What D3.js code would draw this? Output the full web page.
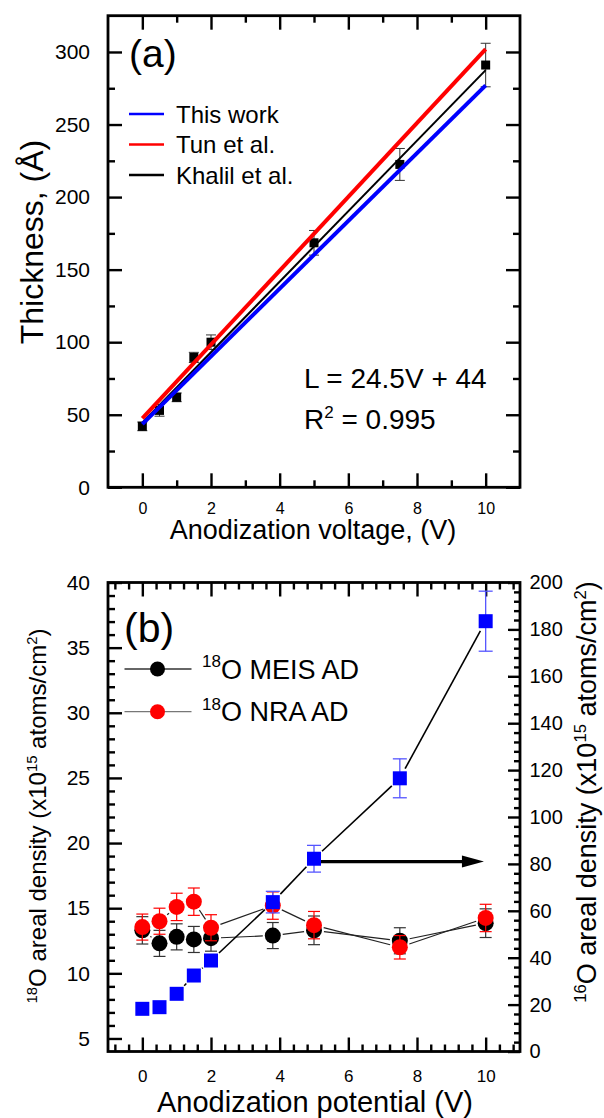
<!DOCTYPE html>
<html>
<head>
<meta charset="utf-8">
<script src="https://cdn.jsdelivr.net/npm/d3@7"></script>
<style>
  body { margin: 0; background: #fff; }
  svg { display: block; font-family: "Liberation Sans", Arial, sans-serif; }
</style>
</head>
<body>
<svg id="chart" width="604" height="1118"></svg>
<script>
// ---- panel (a) data ----
const voltA = [0, 0.5, 1, 1.5, 2, 5, 7.5, 10];
const thickA = [42, 53, 62, 89.5, 100, 168.5, 222.5, 291];
const thickErr = [3, 4, 3, 3.5, 5, 8.5, 11, 15];

// fitted lines, value at 0 V and at 10 V
const fitNames = ["This work", "Tun et al.", "Khalil et al."];
const fitColors = ["#0000ff", "#ff0000", "#000000"];
const fitAt0 = [43.5, 47.5, 44.5];
const fitAt10 = [277, 302, 287.5];

const thickTicks = [0, 50, 100, 150, 200, 250, 300];
const thickMinor = [25, 75, 125, 175, 225, 275];
const voltTicks = [0, 2, 4, 6, 8, 10];
const voltMinorA = [1, 3, 5, 7, 9];

// ---- panel (b) data ----
const voltB = [0, 0.5, 1, 1.5, 2, 3.8, 5, 7.5, 10];
const meis = [13.3, 12.3, 12.8, 12.6, 12.7, 12.9, 13.3, 12.5, 13.85];
const meisErr = [1.05, 1, 1, 1, 1, 1, 1.1, 1, 1.1];
const nra = [13.55, 14.0, 15.1, 15.5, 13.5, 15.2, 13.7, 12.0, 14.25];
const nraErr = [1, 1, 1.05, 1.05, 1, 1.05, 1.05, 0.9, 1.05];
const o16 = [18.2, 18.9, 24.6, 32.4, 38.8, 63.7, 82.2, 116.5, 183.5];
const o16Err = [0, 0, 0, 0, 0, 4.6, 5.7, 8.3, 12.8];

const o18Ticks = [5, 10, 15, 20, 25, 30, 35, 40];
const o16Ticks = [0, 20, 40, 60, 80, 100, 120, 140, 160, 180, 200];

const svg = d3.select("#chart");
const FONT = '"Liberation Sans", Arial, sans-serif';

// shared helpers
function axis(g, gen, tx, ty, fs) {
  const a = g.append("g").attr("transform", `translate(${tx},${ty})`).call(gen);
  a.select(".domain").remove();
  a.attr("font-family", FONT).attr("font-size", fs);
  a.selectAll(".tick line").attr("stroke", "#000").attr("stroke-width", 2.4);
  a.selectAll(".tick text").attr("fill", "#000");
  return a;
}

function frame(g, x, y) {
  g.append("rect")
    .attr("x", x.range()[0]).attr("y", y.range()[1])
    .attr("width", x.range()[1] - x.range()[0])
    .attr("height", y.range()[0] - y.range()[1])
    .attr("fill", "none").attr("stroke", "#000").attr("stroke-width", 2.8);
}

function errorBars(g, xs, ys, es, x, y, color, cap, sw) {
  xs.forEach((v, i) => {
    if (!es[i]) return;
    const px = x(v), y1 = y(ys[i] - es[i]), y2 = y(ys[i] + es[i]);
    const eb = g.append("g").attr("stroke", color).attr("stroke-width", sw);
    eb.append("line").attr("x1", px).attr("x2", px).attr("y1", y1).attr("y2", y2);
    eb.append("line").attr("x1", px - cap).attr("x2", px + cap).attr("y1", y1).attr("y2", y1);
    eb.append("line").attr("x1", px - cap).attr("x2", px + cap).attr("y1", y2).attr("y2", y2);
  });
}

// connecting line with a gap round each symbol
function gapLine(g, xs, ys, x, y, gap, color, sw) {
  for (let i = 0; i < xs.length - 1; i++) {
    const ax = x(xs[i]), ay = y(ys[i]), bx = x(xs[i + 1]), by = y(ys[i + 1]);
    const len = Math.hypot(bx - ax, by - ay);
    if (len <= 2 * gap) continue;
    const ux = (bx - ax) / len, uy = (by - ay) / len;
    g.append("line")
      .attr("x1", ax + ux * gap).attr("y1", ay + uy * gap)
      .attr("x2", bx - ux * gap).attr("y2", by - uy * gap)
      .attr("stroke", color).attr("stroke-width", sw);
  }
}

// ================= panel (a) =================
const xA = d3.scaleLinear().domain([-1, 11]).range([108, 520]);
const yA = d3.scaleLinear().domain([0, 325]).range([487.3, 15.7]);
const gA = svg.append("g");

axis(gA, d3.axisLeft(yA).tickValues(thickTicks).tickSize(-14).tickPadding(18), 108, 0, 21);
axis(gA, d3.axisLeft(yA).tickValues(thickMinor).tickSize(-7).tickFormat(""), 108, 0, 21);
axis(gA, d3.axisRight(yA).tickValues(thickTicks).tickSize(-14).tickFormat(""), 520, 0, 21);
axis(gA, d3.axisRight(yA).tickValues(thickMinor).tickSize(-7).tickFormat(""), 520, 0, 21);
axis(gA, d3.axisBottom(xA).tickValues(voltTicks).tickSize(-14).tickPadding(15), 0, 487.3, 16);
axis(gA, d3.axisBottom(xA).tickValues(voltMinorA).tickSize(-7).tickFormat(""), 0, 487.3, 16);
axis(gA, d3.axisTop(xA).tickValues(voltTicks).tickSize(-14).tickFormat(""), 0, 15.7, 16);
axis(gA, d3.axisTop(xA).tickValues(voltMinorA).tickSize(-7).tickFormat(""), 0, 15.7, 16);

// data points
errorBars(gA, voltA, thickA, thickErr, xA, yA, "#333", 5, 1);
gA.selectAll(".sq").data(voltA).enter().append("rect")
  .attr("x", d => xA(d) - 4.5).attr("y", (d, i) => yA(thickA[i]) - 4.5)
  .attr("width", 9).attr("height", 9).attr("fill", "#000");

// fitted lines (drawn black, red, blue)
const fitWidths = [4, 4, 2];
[2, 1, 0].forEach(i => {
  gA.append("line")
    .attr("x1", xA(0)).attr("y1", yA(fitAt0[i]))
    .attr("x2", xA(10)).attr("y2", yA(fitAt10[i]))
    .attr("stroke", fitColors[i]).attr("stroke-width", fitWidths[i]);
});

frame(gA, xA, yA);

gA.append("text").attr("x", 129).attr("y", 66.5).attr("font-size", 39).text("(a)");

// legend
fitNames.forEach((n, i) => {
  const ly = 114 + i * 30.5;
  gA.append("line").attr("x1", 129).attr("x2", 164).attr("y1", ly).attr("y2", ly)
    .attr("stroke", fitColors[i]).attr("stroke-width", 2.6);
  gA.append("text").attr("x", 176).attr("y", ly + 8.5).attr("font-size", 24).text(n);
});

gA.append("text").attr("x", 304).attr("y", 388).attr("font-size", 28).text("L = 24.5V + 44");
const r2 = gA.append("text").attr("x", 304).attr("y", 429).attr("font-size", 28);
r2.append("tspan").text("R");
r2.append("tspan").attr("font-size", 17).attr("dy", -11).text("2");
r2.append("tspan").attr("dy", 11).text(" = 0.995");

gA.append("text").attr("x", 313).attr("y", 539).attr("text-anchor", "middle")
  .attr("font-size", 27).text("Anodization voltage, (V)");
gA.append("text").attr("transform", "translate(42.5,242) rotate(-90)")
  .attr("text-anchor", "middle").attr("font-size", 32).text("Thickness, (Å)");

// ================= panel (b) =================
const xB = d3.scaleLinear().domain([-1, 11]).range([108, 520]);
const yB = d3.scaleLinear().domain([4, 40]).range([1051.5, 582.5]);
const yR = d3.scaleLinear().domain([0, 200]).range([1051.5, 582.5]);
const gB = svg.append("g");

const xMinorB = d3.range(-0.8, 11, 0.4).filter(v => Math.abs(v / 2 - Math.round(v / 2)) > 0.01);
const o18Minor = d3.range(5, 40, 1).filter(v => v % 5 !== 0);
const o16Minor = d3.range(4, 200, 4).filter(v => v % 20 !== 0);

axis(gB, d3.axisLeft(yB).tickValues(o18Ticks).tickSize(-14).tickPadding(18), 108, 0, 21);
axis(gB, d3.axisLeft(yB).tickValues(o18Minor).tickSize(-7).tickFormat(""), 108, 0, 21);
axis(gB, d3.axisRight(yR).tickValues(o16Ticks).tickSize(-12).tickPadding(9.5), 520, 0, 20);
axis(gB, d3.axisRight(yR).tickValues(o16Minor).tickSize(-6).tickFormat(""), 520, 0, 20);
axis(gB, d3.axisBottom(xB).tickValues(voltTicks).tickSize(-14).tickPadding(18), 0, 1051.5, 17);
axis(gB, d3.axisBottom(xB).tickValues(xMinorB).tickSize(-7).tickFormat(""), 0, 1051.5, 17);
axis(gB, d3.axisTop(xB).tickValues(voltTicks).tickSize(-14).tickFormat(""), 0, 582.5, 17);
axis(gB, d3.axisTop(xB).tickValues(xMinorB).tickSize(-7).tickFormat(""), 0, 582.5, 17);

// connecting lines
gapLine(gB, voltB, meis, xB, yB, 10, "#222", 1.2);
gapLine(gB, voltB, nra, xB, yB, 10, "#222", 1.2);
gapLine(gB, voltB, o16, xB, yR, 11, "#000", 1.6);

// arrow pointing to the right axis
const arrowY = 81;
const ax1 = xB(5.1), ax2 = xB(9.95), ay = yR(arrowY);
gB.append("line").attr("x1", ax1).attr("x2", ax2 - 18).attr("y1", ay).attr("y2", ay)
  .attr("stroke", "#000").attr("stroke-width", 3.2);
gB.append("path")
  .attr("d", `M${ax2},${ay}L${ax2 - 22},${ay - 6}L${ax2 - 22},${ay + 6}Z`)
  .attr("fill", "#000");

// MEIS
errorBars(gB, voltB, meis, meisErr, xB, yB, "#333", 6, 1.2);
gB.selectAll(".meis").data(voltB).enter().append("circle")
  .attr("cx", d => xB(d)).attr("cy", (d, i) => yB(meis[i])).attr("r", 8).attr("fill", "#000");
// NRA
errorBars(gB, voltB, nra, nraErr, xB, yB, "#ff0000", 6, 1.2);
gB.selectAll(".nra").data(voltB).enter().append("circle")
  .attr("cx", d => xB(d)).attr("cy", (d, i) => yB(nra[i])).attr("r", 8).attr("fill", "#ff0000");
// 16O
errorBars(gB, voltB, o16, o16Err, xB, yR, "#5555ff", 7, 1.3);
gB.selectAll(".o16").data(voltB).enter().append("rect")
  .attr("x", d => xB(d) - 7).attr("y", (d, i) => yR(o16[i]) - 7)
  .attr("width", 14).attr("height", 14).attr("fill", "#0000ff");

frame(gB, xB, yB);

gB.append("text").attr("x", 124).attr("y", 642).attr("font-size", 41).text("(b)");

// legend
const legB = [["O MEIS AD", "#000", "#333"], ["O NRA AD", "#ff0000", "#777"]];
legB.forEach((d, i) => {
  const ly = 669 + i * 42.7;
  gB.append("line").attr("x1", 124.5).attr("x2", 191.5).attr("y1", ly).attr("y2", ly)
    .attr("stroke", d[2]).attr("stroke-width", 1.3);
  gB.append("circle").attr("cx", 157.5).attr("cy", ly).attr("r", 7.5).attr("fill", d[1]);
  const t = gB.append("text").attr("x", 202).attr("y", ly + 9.5).attr("font-size", 27);
  t.append("tspan").attr("font-size", 17).attr("dy", -11.5).text("18");
  t.append("tspan").attr("dy", 11.5).text(d[0]);
});

gB.append("text").attr("x", 315).attr("y", 1112).attr("text-anchor", "middle")
  .attr("font-size", 29).text("Anodization potential (V)");

function densityTitle(tx, ty, fs, iso) {
  const t = gB.append("text").attr("transform", `translate(${tx},${ty}) rotate(-90)`)
    .attr("text-anchor", "middle").attr("font-size", fs);
  const sup = fs * 0.62, rise = fs * 0.38;
  t.append("tspan").attr("font-size", sup).attr("dy", -rise).text(iso);
  t.append("tspan").attr("dy", rise).text("O areal density (x10");
  t.append("tspan").attr("font-size", sup).attr("dy", -rise).text("15");
  t.append("tspan").attr("dy", rise).text(" atoms/cm");
  t.append("tspan").attr("font-size", sup).attr("dy", -rise).text("2");
  t.append("tspan").attr("dy", rise).text(")");
}
densityTitle(46, 816, 24, "18");
densityTitle(596, 792, 27, "16");
</script>
</body>
</html>
